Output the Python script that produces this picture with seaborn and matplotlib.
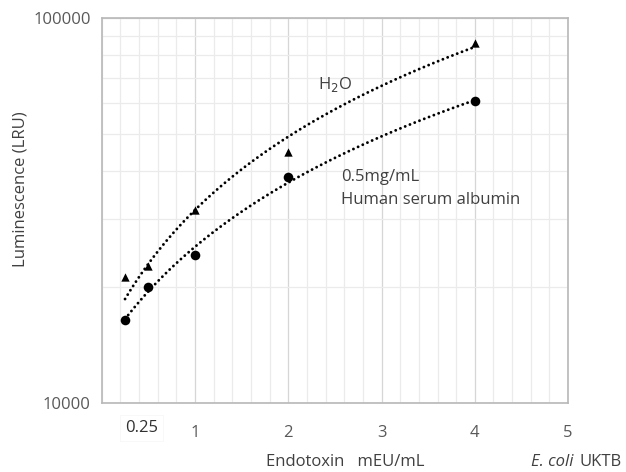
import matplotlib

matplotlib.use("Agg")
import matplotlib.pyplot as plt
import numpy as np
import seaborn as sns
from matplotlib.ticker import LogLocator, MultipleLocator, NullFormatter

# values (luminescence, LRU)
endotoxin = [0.25, 0.5, 1, 2, 4]
lum_h2o = [21200, 22700, 31700, 44900, 86100]
lum_hsa = [16400, 20000, 24200, 38600, 60800]
x_ticks = [1, 2, 3, 4, 5]
y_ticks = [10000, 100000]

sns.set_style("white")
plt.rcParams["font.family"] = ["Open Sans", "DejaVu Sans"]

txt = "#404040"
tick_col = "#595959"

fig = plt.figure(figsize=(6.26, 4.72), dpi=100)
ax = fig.add_axes([0.1625, 0.146, 0.745, 0.816])

dots = dict(color="black", lw=2.1, ls=(0, (0.01, 1.75)), dash_capstyle="round")
sns.regplot(x=endotoxin, y=lum_h2o, ax=ax, ci=None, marker="^", truncate=True,
            scatter_kws={"s": 36, "color": "black", "alpha": 1, "linewidths": 0, "zorder": 4},
            line_kws=dots)
sns.regplot(x=endotoxin, y=lum_hsa, ax=ax, ci=None, marker="o", truncate=True,
            scatter_kws={"s": 48, "color": "black", "alpha": 1, "linewidths": 0, "zorder": 4},
            line_kws=dots)

ax.set_yscale("log")
ax.set_ylim(10000, 100000)
ax.set_xlim(0, 5)

ax.set_yticks(y_ticks, labels=[str(v) for v in y_ticks])
ax.yaxis.set_minor_locator(LogLocator(base=10, subs=range(2, 10)))
ax.yaxis.set_minor_formatter(NullFormatter())
ax.set_xticks(x_ticks, labels=[str(v) for v in x_ticks])
ax.xaxis.set_minor_locator(MultipleLocator(0.2))

ax.grid(True, which="major", color="#d6d6d6", lw=0.9)
ax.grid(True, which="minor", color="#ebebeb", lw=0.9)
ax.set_axisbelow(True)
for s in ax.spines.values():
    s.set_color("#b8b8b8")
    s.set_linewidth(1.2)

ax.tick_params(axis="both", which="both", length=0, labelsize=12, labelcolor=tick_col)
ax.tick_params(axis="x", pad=16)
ax.tick_params(axis="y", pad=8)

ax.text(0.25, -0.065, "0.25", transform=ax.get_xaxis_transform(), ha="left",
        va="center", fontsize=12, color="#303030",
        bbox=dict(boxstyle="square,pad=0.3", fc="white", ec="#f7f7f7", lw=0.6))

ax.set_xlabel("")
ax.set_ylabel("")
fig.text(0.033, 0.60, "Luminescence (LRU)", rotation=90, ha="center", va="center",
         fontsize=12, color=txt)
fig.text(0.425, 0.022, "Endotoxin   mEU/mL", ha="left", va="center", fontsize=12, color=txt)
fig.text(0.848, 0.022, "E. coli", ha="left", va="center", fontsize=12, color=txt,
         fontstyle="italic")
fig.text(0.926, 0.022, "UKTB", ha="left", va="center", fontsize=12, color=txt)

ax.text(2.32, 67000, r"H$_2$O", ha="left", va="center", fontsize=12, color=txt)
ax.text(2.57, 38600, "0.5mg/mL", ha="left", va="center", fontsize=12, color=txt)
ax.text(2.57, 33600, "Human serum albumin", ha="left", va="center", fontsize=12, color=txt)

fig.savefig("out.png", dpi=100)
